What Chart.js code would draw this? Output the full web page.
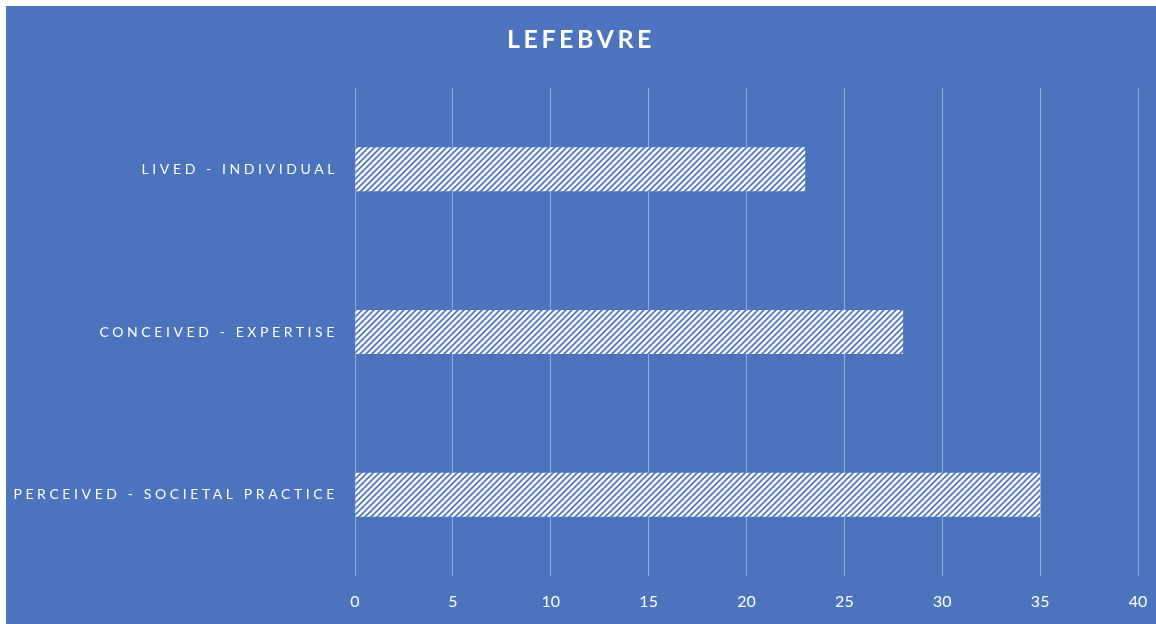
<!DOCTYPE html>
<html>
<head>
<meta charset="utf-8">
<script src="https://cdn.jsdelivr.net/npm/chart.js@4.4.1/dist/chart.umd.min.js"></script>
<style>
  html, body { margin: 0; padding: 0; background: #fff; }
  #wrap { position: absolute; left: 6px; top: 6px; width: 1150px; height: 618px; background: #4b73be; }
</style>
</head>
<body>
<div id="wrap"><canvas id="lefebvre"></canvas></div>
<script>
const categories = ['LIVED - INDIVIDUAL', 'CONCEIVED - EXPERTISE', 'PERCEIVED - SOCIETAL PRACTICE'];
const values = [23, 28, 35];
const xTicks = [0, 5, 10, 15, 20, 25, 30, 35, 40];

const blue = '#4b73be';

// hatch pattern for the bars: white with thin blue diagonals
const tile = document.createElement('canvas');
tile.width = 6;
tile.height = 6;
const t = tile.getContext('2d');
t.fillStyle = '#ffffff';
t.fillRect(0, 0, 6, 6);
t.strokeStyle = blue;
t.lineWidth = 1.6;
t.beginPath();
t.moveTo(0, 6); t.lineTo(6, 0);
t.moveTo(-3, 3); t.lineTo(3, -3);
t.moveTo(3, 9); t.lineTo(9, 3);
t.stroke();

const ctx = document.getElementById('lefebvre').getContext('2d');
const hatch = ctx.createPattern(tile, 'repeat');

// category scale that draws its labels letter-spaced
class SpacedCategoryScale extends Chart.CategoryScale {
  drawLabels(area) {
    this.ctx.save();
    this.ctx.letterSpacing = '3.6px';
    super.drawLabels(area);
    this.ctx.restore();
  }
}
SpacedCategoryScale.id = 'spacedCategory';
SpacedCategoryScale.defaults = Chart.CategoryScale.defaults;

// linear scale with plain (unspaced) tick labels
class PlainLinearScale extends Chart.LinearScale {
  drawLabels(area) {
    this.ctx.save();
    this.ctx.letterSpacing = '0px';
    super.drawLabels(area);
    this.ctx.restore();
  }
}
PlainLinearScale.id = 'plainLinear';
PlainLinearScale.defaults = Chart.LinearScale.defaults;
Chart.register(SpacedCategoryScale, PlainLinearScale);

// title gets a little letter spacing
const spacedTitle = {
  id: 'spacedTitle',
  beforeDraw: (chart) => { chart.ctx.letterSpacing = '3.5px'; },
  afterDraw: (chart) => { chart.ctx.letterSpacing = '0px'; },
};

new Chart(ctx, {
  type: 'bar',
  data: {
    labels: categories,
    datasets: [{
      data: values,
      backgroundColor: hatch,
      borderWidth: 0,
      barPercentage: 0.9,
      categoryPercentage: 0.3,
    }],
  },
  options: {
    indexAxis: 'y',
    responsive: true,
    maintainAspectRatio: false,
    animation: false,
    layout: { padding: { left: 0, right: 0, top: 0, bottom: 13 } },
    plugins: {
      legend: { display: false },
      tooltip: { enabled: false },
      title: {
        display: true,
        text: 'LEFEBVRE',
        color: '#ffffff',
        font: { family: 'Lato', size: 25, weight: 'bold' },
        padding: { top: 19, bottom: 33 },
      },
    },
    scales: {
      x: {
        type: 'plainLinear',
        min: 0,
        max: 40,
        afterBuildTicks: (scale) => { scale.ticks = xTicks.map(v => ({ value: v })); },
        afterFit: (scale) => {
          scale.paddingRight = 18;
          scale.height = 35;
        },
        grid: { color: 'rgba(255,255,255,0.4)', lineWidth: 1, drawTicks: false },
        border: { display: false },
        ticks: {
          color: '#ffffff',
          padding: 16,
          font: { family: 'Lato', size: 16 },
        },
      },
      y: {
        type: 'spacedCategory',
        afterFit: (scale) => { scale.width = 349; },
        grid: { display: false, drawTicks: false },
        border: { display: false },
        ticks: {
          color: '#ffffff',
          padding: 17,
          font: { family: 'Lato', size: 14 },
        },
      },
    },
  },
  plugins: [spacedTitle],
});
</script>
</body>
</html>
